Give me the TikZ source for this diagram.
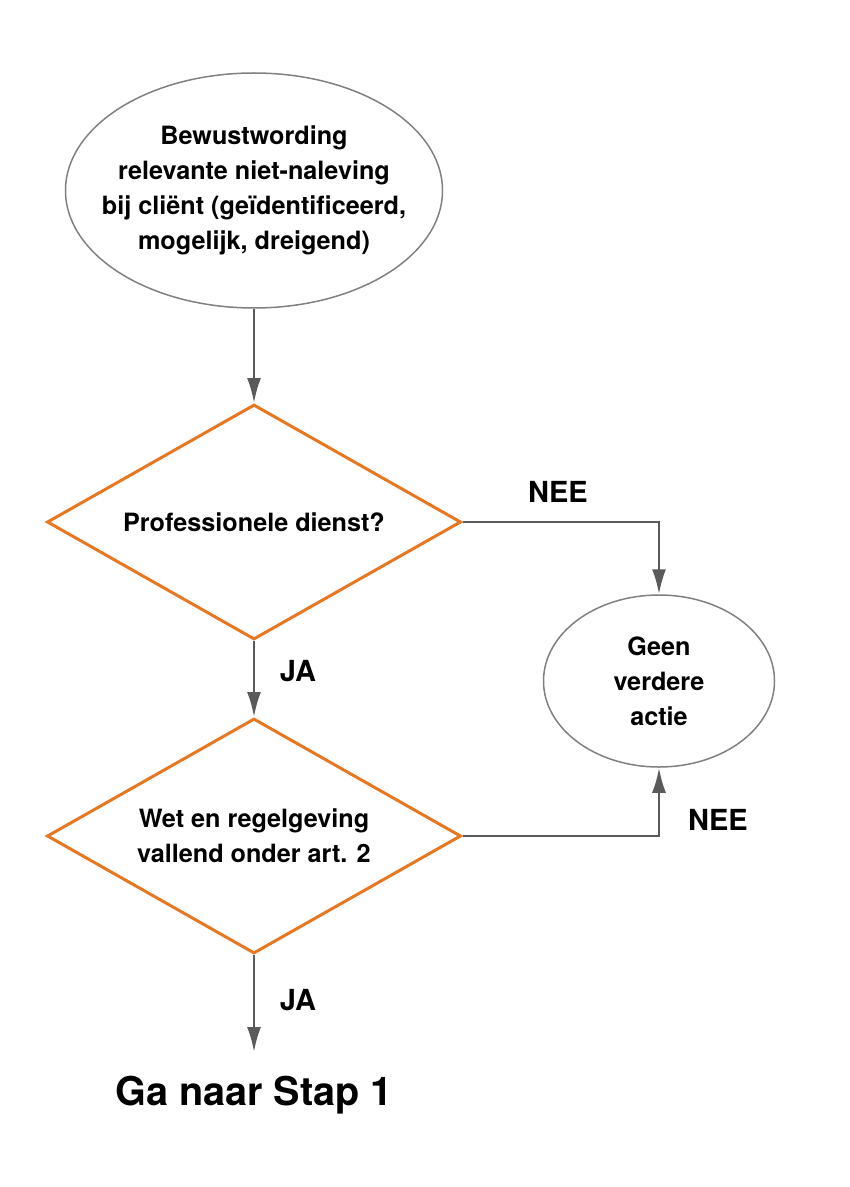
\documentclass[tikz,border=0pt]{standalone}
\usepackage{fontspec}
\setmainfont{TeX Gyre Heros}
\usetikzlibrary{shapes.geometric,arrows.meta}

\definecolor{stroomoranje}{HTML}{E87722}
\definecolor{lijngrijs}{HTML}{5A5A5A}
\definecolor{randgrijs}{HTML}{808080}

\tikzset{
  startovaal/.style={ellipse, draw=randgrijs, line width=0.75pt, inner sep=0pt,
    align=center, font=\bfseries\fontsize{12.6}{17.5}\selectfont},
  keuze/.style={diamond, draw=stroomoranje, line width=1.5pt, inner sep=0pt,
    aspect=1.76, minimum width=207pt, minimum height=117.5pt,
    align=center, font=\bfseries\fontsize{12.6}{17.5}\selectfont},
  pijl/.style={draw=lijngrijs, line width=1.25pt,
    -{Latex[length=12.5pt,width=7pt]}},
  antwoord/.style={font=\bfseries\fontsize{14.5}{17}\selectfont}
}

\begin{document}
\begin{tikzpicture}[x=0.5pt, y=-0.5pt]
    \useasboundingbox (0,0) rectangle (850,1187);
    % vormen
    \node[startovaal, inner xsep=-16pt, minimum width=188.5pt, minimum height=117.5pt] (bewust) at (254,190.5)
        {Bewustwording\\relevante niet-naleving\\bij cliënt (geïdentificeerd,\\mogelijk, dreigend)};
    \node[keuze] (prof) at (254,522) {Professionele dienst?};
    \node[keuze] (wet) at (254,836) {Wet en regelgeving\\vallend onder art. 2};
    \node[startovaal, minimum width=115.5pt, minimum height=86pt] (geen) at (659,681)
        {Geen\\verdere\\actie};
    \node[font=\bfseries\fontsize{19.8}{22}\selectfont] (stap) at (254,1095) {Ga naar Stap 1};
    \coordinate (stapin) at (254,1052);
    % verbindingen
    \draw[pijl] (bewust.south) -- (prof.north);
    \draw[pijl] (prof.south) -- (wet.north);
    \draw[pijl] (prof.east) -| (geen.north);
    \draw[pijl] (wet.east) -| (geen.south);
    \draw[pijl] (wet.south) -- (stapin);
    % labels
    \node[antwoord] (nee1) at (558,492) {NEE};
    \node[antwoord] (nee2) at (718,820) {NEE};
    \node[antwoord] (ja1) at (298,671) {JA};
    \node[antwoord] (ja2) at (298,1000) {JA};
\end{tikzpicture}
\end{document}
